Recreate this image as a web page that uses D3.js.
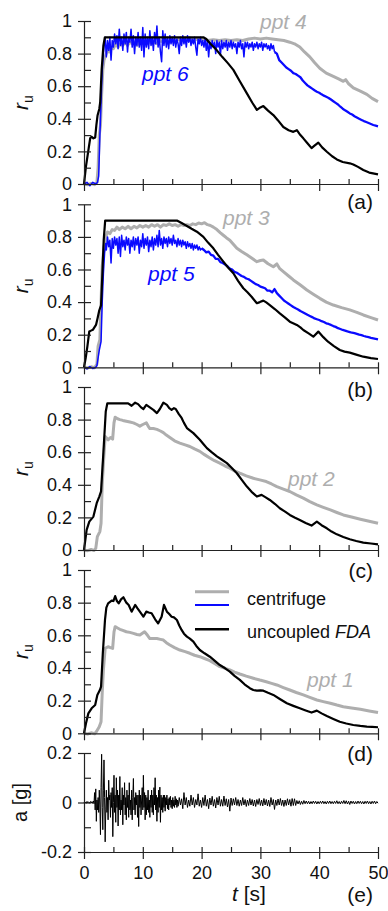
<!DOCTYPE html>
<html>
<head>
<meta charset="utf-8">
<script src="https://cdn.jsdelivr.net/npm/d3@7/dist/d3.min.js"></script>
<style>
  html, body { margin: 0; padding: 0; background: #fff; }
  svg { display: block; font-family: "Liberation Sans", Arial, sans-serif; }
</style>
</head>
<body>
<script>
// ---------- data ----------
const tTicks = [0, 10, 20, 30, 40, 50];
const tMinor = [5, 15, 25, 35, 45];
const ruTicks = [0, 0.2, 0.4, 0.6, 0.8, 1];
const ruMinor = [0.1, 0.3, 0.5, 0.7, 0.9];
const accTicks = [-0.2, 0, 0.2];
const accMinor = [-0.1, 0.1];

// (a) ppt 4 (centrifuge), ppt 6 (centrifuge), uncoupled FDA
const ppt4 = [[0,0],[0.6,-0.005],[1.2,0.003],[1.8,-0.004],[2.2,0.01],[2.4,0.1],[2.6,0.3],[2.8,0.36],[3.0,0.55],[3.2,0.7],[3.4,0.76],[3.6,0.78],[3.8,0.8],[4.0,0.83],[4.3,0.81],[4.6,0.84],[5.0,0.83],[5.4,0.86],[5.8,0.84],[6.2,0.86],[6.6,0.85],[7.0,0.87],[7.4,0.85],[7.8,0.87],[8.2,0.86],[8.6,0.87],[9.0,0.85],[9.4,0.87],[9.8,0.86],[10.2,0.87],[10.6,0.86],[11.0,0.88],[11.5,0.86],[12.0,0.87],[12.5,0.86],[13.0,0.88],[13.5,0.87],[14.0,0.88],[14.5,0.87],[15.0,0.88],[15.5,0.87],[16.0,0.89],[16.5,0.88],[17.0,0.89],[17.5,0.88],[18.0,0.89],[18.5,0.88],[19.0,0.89],[19.5,0.88],[20.0,0.89],[21,0.88],[22,0.885],[23,0.88],[24,0.885],[25,0.88],[26,0.885],[27,0.88],[28,0.89],[29,0.895],[30,0.89],[31,0.895],[32,0.89],[33,0.885],[34,0.88],[35,0.87],[35.8,0.86],[36.7,0.84],[37.5,0.81],[38.4,0.78],[39.2,0.745],[40.1,0.71],[41.2,0.68],[42.4,0.66],[43.3,0.645],[44.1,0.63],[44.5,0.64],[45.0,0.615],[45.8,0.59],[47.0,0.57],[48.1,0.55],[49,0.525],[50,0.505]];
const ppt6Rise = [[0,0],[0.5,0.01],[1,-0.01],[1.5,0.01],[2,0],[2.3,0.01],[2.5,0.05],[2.7,0.3],[2.9,0.5],[3.1,0.7],[3.3,0.8]];
const ppt6Dt = 0.2, ppt6T0 = 3.4;
const ppt6Plateau = [0.84,0.9,0.78,0.88,0.82,0.9,0.76,0.88,0.84,0.92,0.86,0.91,0.83,0.95,0.85,0.9,0.82,0.92,0.86,0.93,0.81,0.9,0.87,0.95,0.84,0.91,0.8,0.9,0.85,0.93,0.84,0.9,0.82,0.96,0.78,0.92,0.84,0.9,0.83,0.94,0.85,0.9,0.82,0.93,0.86,0.97,0.84,0.9,0.81,0.75,0.94,0.85,0.92,0.84,0.9,0.83,0.91,0.86,0.9,0.85,0.91,0.84,0.89,0.86,0.8,0.9,0.85,0.91,0.86,0.9,0.84,0.91,0.87,0.9,0.85,0.89,0.86,0.9,0.84,0.79,0.89,0.86,0.9,0.85,0.88,0.84,0.89,0.82,0.88,0.78,0.87,0.83,0.88,0.84,0.87,0.8,0.88,0.84,0.87,0.79,0.88,0.83,0.87,0.84,0.88,0.82,0.87,0.84,0.88,0.83,0.87,0.84,0.86,0.8,0.87,0.84,0.88,0.83,0.86,0.78,0.87,0.84,0.87,0.83,0.86,0.84,0.87,0.82,0.86,0.84,0.87,0.83,0.86,0.84,0.87,0.82,0.86,0.84,0.86,0.83,0.85,0.82,0.86,0.83,0.85,0.81];
const ppt6TailDt = 0.4, ppt6TailT0 = 32.8;
const ppt6Tail = [0.8,0.76,0.745,0.73,0.715,0.705,0.695,0.68,0.675,0.665,0.655,0.635,0.62,0.605,0.595,0.585,0.575,0.566,0.56,0.55,0.542,0.535,0.528,0.518,0.508,0.498,0.488,0.474,0.462,0.452,0.443,0.433,0.426,0.416,0.408,0.4,0.393,0.386,0.38,0.374,0.368,0.362,0.358,0.354];
const fdaA = [[0,0],[0.34,0.11],[0.8,0.22],[1.05,0.28],[1.3,0.29],[1.6,0.28],[1.9,0.285],[2.1,0.36],[2.3,0.42],[2.6,0.46],[2.75,0.5],[3.0,0.7],[3.3,0.85],[3.55,0.9],[20.3,0.9],[20.8,0.89],[21.5,0.86],[22.6,0.82],[23.5,0.78],[24.5,0.74],[25.4,0.70],[26.5,0.63],[27.7,0.556],[28.6,0.5],[29.4,0.455],[30.0,0.47],[30.5,0.478],[31.3,0.45],[32.2,0.423],[33.0,0.39],[33.9,0.35],[34.8,0.33],[35.6,0.32],[36.2,0.33],[36.8,0.30],[37.3,0.28],[38.0,0.25],[38.7,0.22],[39.2,0.235],[39.85,0.254],[40.5,0.225],[41.3,0.198],[42.2,0.17],[43.0,0.151],[44.0,0.135],[45.2,0.127],[45.8,0.12],[46.6,0.105],[47.5,0.086],[48.5,0.07],[50,0.059]];

// (b) ppt 3, ppt 5, uncoupled FDA
const ppt3 = [[0,0],[0.6,-0.004],[1.2,0.003],[1.8,-0.003],[2.2,0.02],[2.4,0.13],[2.7,0.17],[2.9,0.4],[3.1,0.62],[3.4,0.74],[3.7,0.8],[4.0,0.83],[4.4,0.82],[4.8,0.845],[5.2,0.84],[5.6,0.86],[6.0,0.845],[6.5,0.86],[7.0,0.85],[7.5,0.865],[8.0,0.85],[8.5,0.865],[9.0,0.855],[9.5,0.87],[10.0,0.86],[10.5,0.87],[11.0,0.86],[11.5,0.875],[12.0,0.865],[12.5,0.875],[13.0,0.86],[13.5,0.875],[14.0,0.87],[14.5,0.88],[15.0,0.87],[15.5,0.875],[16.0,0.865],[16.5,0.875],[17,0.87],[17.5,0.875],[18,0.87],[18.5,0.88],[19,0.875],[19.5,0.885],[20.0,0.88],[20.5,0.887],[21.0,0.875],[21.5,0.87],[22.0,0.86],[22.6,0.845],[23.2,0.825],[23.7,0.81],[24.2,0.795],[24.8,0.78],[25.4,0.755],[26.0,0.73],[26.8,0.71],[27.7,0.69],[28.5,0.67],[29.4,0.648],[30.0,0.655],[30.5,0.658],[31.3,0.635],[32.2,0.617],[32.8,0.634],[33.3,0.605],[33.9,0.587],[34.8,0.56],[35.6,0.536],[36.8,0.505],[37.9,0.474],[39.0,0.448],[40.1,0.423],[41.2,0.4],[42.4,0.382],[43.8,0.366],[45.2,0.352],[46.4,0.337],[47.5,0.321],[48.8,0.305],[50,0.29]];
const ppt5Rise = [[0,0],[0.5,-0.01],[1,0.005],[1.5,-0.008],[2,0],[2.2,0.01],[2.6,0.106],[2.9,0.157],[3.1,0.4],[3.3,0.577],[3.5,0.7],[3.7,0.76]];
const ppt5Dt = 0.2, ppt5T0 = 3.8;
const ppt5Plateau = [0.72,0.8,0.74,0.78,0.64,0.79,0.73,0.8,0.75,0.79,0.7,0.8,0.68,0.81,0.74,0.78,0.72,0.8,0.75,0.79,0.7,0.78,0.74,0.8,0.72,0.79,0.75,0.8,0.7,0.78,0.74,0.82,0.73,0.79,0.75,0.8,0.71,0.78,0.74,0.8,0.72,0.79,0.75,0.81,0.74,0.84,0.75,0.79,0.73,0.8,0.76,0.79,0.74,0.8,0.76,0.79,0.75,0.81,0.76,0.78,0.74,0.79,0.75,0.78,0.74,0.78,0.75,0.77,0.73,0.77,0.74,0.76,0.73,0.76,0.72,0.75,0.73,0.75,0.72,0.74,0.72,0.73];
const ppt5TailDt = 0.4, ppt5TailT0 = 20.4;
const ppt5Tail = [0.72,0.705,0.71,0.69,0.685,0.665,0.665,0.645,0.64,0.63,0.62,0.605,0.6,0.585,0.58,0.57,0.56,0.555,0.545,0.54,0.53,0.52,0.51,0.505,0.495,0.49,0.485,0.47,0.47,0.46,0.48,0.455,0.44,0.425,0.41,0.4,0.39,0.38,0.37,0.362,0.355,0.345,0.338,0.33,0.322,0.315,0.308,0.3,0.295,0.29,0.283,0.278,0.27,0.266,0.26,0.253,0.248,0.24,0.235,0.229,0.225,0.22,0.216,0.212,0.209,0.205,0.2,0.197,0.192,0.188,0.185,0.181,0.178,0.175,0.172];
const fdaB = [[0,0],[0.3,0.06],[0.57,0.127],[0.9,0.22],[1.2,0.225],[1.5,0.23],[2.04,0.26],[2.3,0.3],[2.6,0.35],[2.9,0.38],[3.1,0.55],[3.35,0.78],[3.6,0.9],[15.8,0.9],[16.6,0.885],[17.5,0.867],[18.3,0.85],[19.2,0.832],[20.3,0.8],[21.1,0.765],[22.0,0.73],[22.8,0.69],[23.7,0.648],[24.5,0.612],[25.4,0.577],[26.2,0.53],[27.1,0.485],[27.8,0.46],[28.5,0.433],[29.4,0.393],[29.9,0.4],[30.5,0.409],[31.0,0.398],[31.6,0.382],[32.5,0.356],[33.3,0.331],[34.2,0.305],[35.0,0.28],[36.2,0.26],[36.8,0.245],[37.3,0.229],[38.2,0.208],[39.0,0.188],[39.85,0.219],[40.7,0.185],[41.5,0.157],[42.5,0.13],[43.5,0.106],[44.3,0.096],[45.2,0.09],[46.3,0.078],[47.5,0.065],[48.8,0.056],[50,0.051]];

// (c) ppt 2, uncoupled FDA
const ppt2 = [[0,0],[0.6,-0.004],[1.2,0.003],[1.7,-0.003],[2.0,0.01],[2.27,0.082],[2.7,0.113],[2.9,0.164],[3.1,0.4],[3.3,0.533],[3.6,0.697],[4.1,0.676],[4.5,0.69],[4.87,0.68],[5.1,0.78],[5.3,0.815],[5.7,0.805],[6.1,0.8],[6.6,0.795],[7.2,0.79],[7.8,0.785],[8.4,0.78],[9.0,0.77],[9.5,0.76],[10.0,0.77],[10.6,0.78],[11.0,0.755],[11.2,0.745],[11.8,0.745],[12.4,0.74],[13.0,0.73],[13.5,0.72],[14.0,0.705],[14.6,0.69],[15.4,0.67],[16.3,0.656],[17.2,0.645],[18.0,0.635],[18.8,0.62],[19.7,0.605],[20.5,0.585],[21.4,0.565],[22.2,0.548],[23.1,0.533],[24.0,0.515],[24.8,0.502],[25.6,0.485],[26.5,0.471],[27.6,0.455],[28.8,0.44],[29.9,0.43],[31.0,0.42],[31.9,0.405],[32.8,0.389],[33.9,0.374],[35.0,0.359],[36.1,0.338],[37.3,0.318],[38.4,0.297],[39.6,0.277],[40.7,0.262],[41.9,0.246],[43.0,0.23],[44.1,0.215],[45.5,0.202],[47.0,0.189],[48.5,0.176],[50,0.164]];
const fdaC = [[0,0],[0.45,0.123],[0.9,0.174],[1.6,0.205],[2.16,0.287],[2.6,0.328],[2.9,0.36],[3.3,0.6],[3.7,0.85],[3.97,0.9],[7.5,0.9],[8.1,0.885],[8.7,0.904],[9.2,0.895],[9.7,0.875],[10.1,0.865],[10.6,0.89],[11.2,0.875],[11.8,0.86],[12.4,0.84],[12.9,0.865],[13.5,0.904],[14.1,0.89],[14.5,0.87],[14.9,0.86],[15.3,0.87],[15.6,0.865],[16.1,0.835],[16.6,0.81],[17.0,0.78],[17.5,0.748],[18.6,0.717],[19.7,0.676],[20.3,0.65],[20.9,0.625],[21.7,0.6],[22.6,0.574],[23.4,0.555],[24.3,0.533],[25.1,0.505],[26.0,0.471],[26.8,0.432],[27.7,0.389],[28.5,0.357],[29.4,0.328],[30.2,0.338],[30.9,0.323],[31.6,0.307],[32.5,0.282],[33.3,0.256],[34.2,0.235],[35.0,0.215],[35.9,0.198],[36.7,0.184],[37.7,0.166],[38.7,0.15],[39.6,0.174],[40.4,0.152],[41.3,0.133],[42.1,0.113],[43.0,0.096],[44.1,0.08],[45.2,0.066],[46.3,0.055],[47.5,0.045],[48.8,0.04],[50,0.035]];

// (d) ppt 1, uncoupled FDA
const ppt1 = [[0,0],[0.6,-0.004],[1.2,0.003],[1.8,-0.003],[2.1,0.01],[2.6,0.04],[2.9,0.071],[3.1,0.25],[3.3,0.388],[3.6,0.52],[4.1,0.53],[4.5,0.525],[4.87,0.52],[5.1,0.62],[5.3,0.653],[5.7,0.645],[6.1,0.637],[6.6,0.63],[7.2,0.622],[7.8,0.618],[8.4,0.612],[9.0,0.605],[9.5,0.602],[10.3,0.622],[10.8,0.6],[11.2,0.58],[11.8,0.58],[12.4,0.58],[13.0,0.575],[13.5,0.571],[14.0,0.555],[14.6,0.541],[15.4,0.525],[16.3,0.51],[17.2,0.5],[18.0,0.49],[18.8,0.478],[19.7,0.469],[20.5,0.458],[21.4,0.445],[22.2,0.428],[23.1,0.408],[24.0,0.398],[24.8,0.388],[25.6,0.375],[26.5,0.363],[27.6,0.35],[28.8,0.337],[29.9,0.326],[31.0,0.316],[31.9,0.306],[32.8,0.296],[33.9,0.28],[35.0,0.265],[36.1,0.25],[37.3,0.235],[38.4,0.22],[39.6,0.204],[40.7,0.194],[41.9,0.184],[43.0,0.173],[44.1,0.163],[45.5,0.155],[47.0,0.147],[48.5,0.137],[50,0.127]];
const fdaD = [[0,0],[0.34,0.061],[0.74,0.122],[1.3,0.153],[1.9,0.173],[2.27,0.235],[2.7,0.265],[2.9,0.286],[3.2,0.49],[3.57,0.694],[3.8,0.77],[4.1,0.796],[4.7,0.812],[5.0,0.81],[5.3,0.84],[5.6,0.81],[5.9,0.796],[6.3,0.82],[6.7,0.833],[7.2,0.8],[7.6,0.786],[8.1,0.745],[8.7,0.786],[9.1,0.765],[9.5,0.745],[10.1,0.714],[10.6,0.745],[11.0,0.74],[11.5,0.735],[12.1,0.698],[12.6,0.673],[13.2,0.714],[13.6,0.786],[14.1,0.745],[14.5,0.73],[14.9,0.714],[15.3,0.71],[15.8,0.694],[16.2,0.66],[16.6,0.633],[17.0,0.61],[17.5,0.592],[18.0,0.58],[18.6,0.561],[19.1,0.535],[19.7,0.51],[20.5,0.49],[21.4,0.469],[22.2,0.445],[23.1,0.418],[24.0,0.398],[24.8,0.378],[25.6,0.352],[26.5,0.327],[27.3,0.3],[28.2,0.276],[28.8,0.265],[29.4,0.261],[30.0,0.263],[30.5,0.261],[31.3,0.248],[32.2,0.235],[33.3,0.21],[34.5,0.184],[35.6,0.168],[36.7,0.153],[37.7,0.14],[38.7,0.127],[39.6,0.139],[40.4,0.122],[41.3,0.106],[42.4,0.088],[43.5,0.071],[44.6,0.06],[45.8,0.051],[47.0,0.045],[48.1,0.041],[49,0.039],[50,0.037]];

// (e) input base acceleration [g]
const accEarlyDt = 0.1, accEarlyT0 = 0;
const accEarly = [0,0.003,-0.002,0.002,-0.003,0.004,-0.002,0.003,0,-0.003,0.002,0.004,-0.002,0.003,-0.004,0.002,0.006,-0.005,
  0.04,-0.03,0.055,-0.076,0.01,-0.03,0.02,-0.04,0.05,-0.01,
  -0.13,0.06,0.195,-0.02,-0.11,0.05,0.172,0.02,-0.159,-0.03,
  0.05,-0.04,0.02,-0.07,0.09,0.01,0.03,-0.06,0.04,-0.02,
  0.06,-0.138,0,0.11,-0.04,0.03,-0.08,0.1,-0.02,0.05,
  -0.095,0.03,-0.03,0.105,-0.05,0.01,-0.03,0.06,-0.09,0.03,
  -0.01,0.08,-0.05,0.02,-0.07,0.05,-0.02,0.03,-0.06,0.08,
  -0.03,0.01,-0.05,0.05,-0.07,0.02,0.097,-0.03,0.02,-0.05,
  0.04,-0.01,0.03,-0.06,0.03,-0.097,0.05,-0.02,0.03,-0.05,
  0.01,0.06,-0.03,0.11,-0.02,0.04,-0.07,0.03,-0.05,0.02,
  -0.03,0.05,-0.04,0.01,-0.06,0.03,-0.02,0.05,-0.04,0.03,
  -0.05,0.06,-0.01,0.1,-0.03,0.03,-0.076,0.02,-0.04,0.05,
  -0.02,0.062,-0.08,0.03,-0.03,0.02,-0.04,0.03,-0.02,0.03,
  -0.035,0.02,-0.01,0.03,-0.025,0.015,-0.03,0.02,-0.01,0.025,
  -0.02,0.01,-0.025,0.02,-0.015,0.01,-0.02,0.025,-0.01,0.015,
  -0.02,0.01,-0.015];
const accLateDt = 0.2, accLateT0 = 16.2;
const accLate = [0.02,-0.01,0.015,-0.025,0.04,-0.01,0.02,-0.02,0.01,-0.015,
  0.03,-0.01,0.02,-0.02,0.012,-0.01,0.035,-0.015,0.01,-0.02,
  0.02,-0.012,0.03,-0.015,0.012,-0.025,0.018,-0.01,0.025,-0.015,
  0.012,-0.022,0.02,-0.01,0.025,-0.015,0.012,-0.015,0.026,-0.012,
  0.015,-0.018,0.012,-0.035,0.018,-0.012,0.015,-0.01,0.02,-0.012,
  0.012,-0.015,0.01,-0.012,0.02,-0.01,0.012,-0.016,0.01,-0.012,
  0.016,-0.01,0.012,-0.014,0.01,-0.016,0.012,-0.008,0.016,-0.012,
  0.01,-0.014,0.016,-0.01,0.012,-0.014,0.01,-0.016,0.02,-0.01,
  0.012,-0.028,0.01,-0.012,0.014,-0.01,0.016,-0.012,0.01,-0.016,
  0.01,-0.012,0.015,-0.01,0.012,-0.015,0.016,-0.012,0.015,-0.012,
  0.008,-0.006,0.007,-0.008,0.005,-0.007,0.008,-0.005,0.006,-0.005,
  0.005,-0.006,0.004,-0.005,0.006,-0.004,0.005,-0.006,0.004,-0.005,
  0.005,-0.004,0.006,-0.005,0.004,-0.006,0.005,-0.004,0.006,-0.005,
  0.004,-0.005,0.005,-0.004,0.007,-0.005,0.004,-0.006,0.005,-0.004,
  0.008,-0.005,0.007,-0.006,0.005,-0.008,0.006,-0.004,0.005,-0.006,
  0.004,-0.005,0.006,-0.004,0.005,-0.005,0.004,-0.006,0.005,-0.004,
  0.006,-0.005,0.004,-0.006,0.005,-0.004,0.006,-0.005,0.004,-0.003];

// ---------- drawing ----------
const GRAY = "#aeaeae", BLUE = "#0a0aff", BLACK = "#000";
const AXIS = "#222", TEXT = "#111";
const W = 388, H = 911;

// regularly sampled records -> [t, value] pairs
const sampled = (t0, dt, vals) => vals.map((v, i) => [t0 + i * dt, v]);

const ppt6Head = ppt6Rise.concat(sampled(ppt6T0, ppt6Dt, ppt6Plateau));
const ppt6End = [ppt6Head[ppt6Head.length - 1]].concat(sampled(ppt6TailT0, ppt6TailDt, ppt6Tail));
const ppt5Head = ppt5Rise.concat(sampled(ppt5T0, ppt5Dt, ppt5Plateau));
const ppt5End = [ppt5Head[ppt5Head.length - 1]].concat(sampled(ppt5TailT0, ppt5TailDt, ppt5Tail));
const acc = sampled(accEarlyT0, accEarlyDt, accEarly).concat(sampled(accLateT0, accLateDt, accLate));

const svg = d3.select("body").append("svg").attr("width", W).attr("height", H);
const x = d3.scaleLinear().domain([0, 50]).range([84, 378]);

const panels = [
  { top: 21,    bottom: 184,   domain: [0, 1], ticks: ruTicks, minor: ruMinor,
    series: [{ d: ppt4, c: GRAY, w: 3 }, { d: ppt6Head, c: BLUE, w: 1.5 }, { d: ppt6End, c: BLUE, w: 2.3 }, { d: fdaA, c: BLACK, w: 2.2 }] },
  { top: 204.3, bottom: 367.3, domain: [0, 1], ticks: ruTicks, minor: ruMinor,
    series: [{ d: ppt3, c: GRAY, w: 3 }, { d: ppt5Head, c: BLUE, w: 1.5 }, { d: ppt5End, c: BLUE, w: 2.3 }, { d: fdaB, c: BLACK, w: 2.2 }] },
  { top: 387,   bottom: 550,   domain: [0, 1], ticks: ruTicks, minor: ruMinor,
    series: [{ d: ppt2, c: GRAY, w: 3 }, { d: fdaC, c: BLACK, w: 2.2 }] },
  { top: 570,   bottom: 733.3, domain: [0, 1], ticks: ruTicks, minor: ruMinor,
    series: [{ d: ppt1, c: GRAY, w: 3 }, { d: fdaD, c: BLACK, w: 2.2 }] },
  { top: 753,   bottom: 852,   domain: [-0.2, 0.2], ticks: accTicks, minor: accMinor,
    series: [{ d: acc, c: BLACK, w: 1 }] }
];

panels.forEach((p, i) => {
  const y = d3.scaleLinear().domain(p.domain).range([p.bottom, p.top]);
  const g = svg.append("g");
  const last = i === panels.length - 1;
  const axisY = last ? p.bottom : y(0);

  // curves
  const line = d3.line().x(d => x(d[0])).y(d => y(d[1]));
  p.series.forEach(s => {
    g.append("path").attr("d", line(s.d)).attr("fill", "none")
      .attr("stroke", s.c).attr("stroke-width", s.w).attr("stroke-linejoin", "round");
  });

  // x axis: major ticks cross the axis line, minor ticks point inward
  const gx = g.append("g").attr("transform", `translate(0,${axisY})`)
    .call(d3.axisBottom(x).tickValues(tTicks).tickSize(7).tickSizeOuter(0).tickPadding(7.5)
      .tickFormat(last ? d3.format("d") : () => ""));
  gx.selectAll(".tick line").attr("y1", -5);
  g.append("g").attr("transform", `translate(0,${axisY})`)
    .call(d3.axisBottom(x).tickValues(tMinor).tickSize(-5).tickSizeOuter(0).tickFormat(() => ""))
    .select(".domain").remove();

  // y axis
  const gy = g.append("g").attr("transform", `translate(${x(0)},0)`)
    .call(d3.axisLeft(y).tickValues(p.ticks).tickSize(6).tickSizeOuter(0).tickPadding(6)
      .tickFormat(d => String(d)));
  gy.selectAll(".tick line").attr("x1", 7);
  g.append("g").attr("transform", `translate(${x(0)},0)`)
    .call(d3.axisLeft(y).tickValues(p.minor).tickSize(-7).tickSizeOuter(0).tickFormat(() => ""))
    .select(".domain").remove();

  g.selectAll(".domain, .tick line").attr("stroke", AXIS).attr("stroke-width", 1.2);
  g.selectAll(".tick text").attr("fill", TEXT).attr("font-size", 18)
    .attr("font-family", "'Liberation Sans', Arial, sans-serif");
});

// axis titles
const mid = p => (p.top + p.bottom) / 2;
panels.slice(0, 4).forEach(p => {
  const t = svg.append("text").attr("transform", `translate(28,${mid(p)}) rotate(-90)`)
    .attr("text-anchor", "middle").attr("font-size", 21).attr("fill", TEXT);
  t.append("tspan").attr("font-style", "italic").text("r");
  t.append("tspan").attr("font-size", 14).attr("dy", 5).text("u");
});
svg.append("text").attr("transform", `translate(27,${mid(panels[4])}) rotate(-90)`)
  .attr("text-anchor", "middle").attr("font-size", 20).attr("fill", TEXT).text("a [g]");
const tt = svg.append("text").attr("x", 249).attr("y", 901).attr("text-anchor", "middle")
  .attr("font-size", 21).attr("fill", TEXT);
tt.append("tspan").attr("font-style", "italic").text("t");
tt.append("tspan").text(" [s]");

// panel letters
const letters = [["(a)", 209], ["(b)", 397], ["(c)", 578], ["(d)", 761], ["(e)", 902]];
letters.forEach(([s, yy]) => svg.append("text").attr("x", 373).attr("y", yy)
  .attr("text-anchor", "end").attr("font-size", 21).attr("fill", TEXT).text(s));

// curve annotations
const notes = [
  { s: "ppt 4", x: 260, y: 28.5, c: GRAY },
  { s: "ppt 6", x: 142, y: 81,   c: BLUE },
  { s: "ppt 3", x: 223, y: 225,  c: GRAY },
  { s: "ppt 5", x: 148, y: 280.5, c: BLUE },
  { s: "ppt 2", x: 288, y: 486,  c: GRAY },
  { s: "ppt 1", x: 307, y: 686.5, c: GRAY }
];
notes.forEach(n => svg.append("text").attr("x", n.x).attr("y", n.y)
  .attr("font-size", 21).attr("font-style", "italic").attr("fill", n.c).text(n.s));

// legend
const lg = svg.append("g");
[[GRAY, 591.7, 3], [BLUE, 605, 2], [BLACK, 629.3, 2.4]].forEach(([c, yy, w]) =>
  lg.append("line").attr("x1", 195).attr("x2", 229).attr("y1", yy).attr("y2", yy)
    .attr("stroke", c).attr("stroke-width", w));
lg.append("text").attr("x", 247).attr("y", 604.5).attr("font-size", 18).attr("fill", TEXT).text("centrifuge");
const lt = lg.append("text").attr("x", 247).attr("y", 637.5).attr("font-size", 18).attr("fill", TEXT);
lt.append("tspan").text("uncoupled ");
lt.append("tspan").attr("font-style", "italic").text("FDA");
</script>
</body>
</html>
